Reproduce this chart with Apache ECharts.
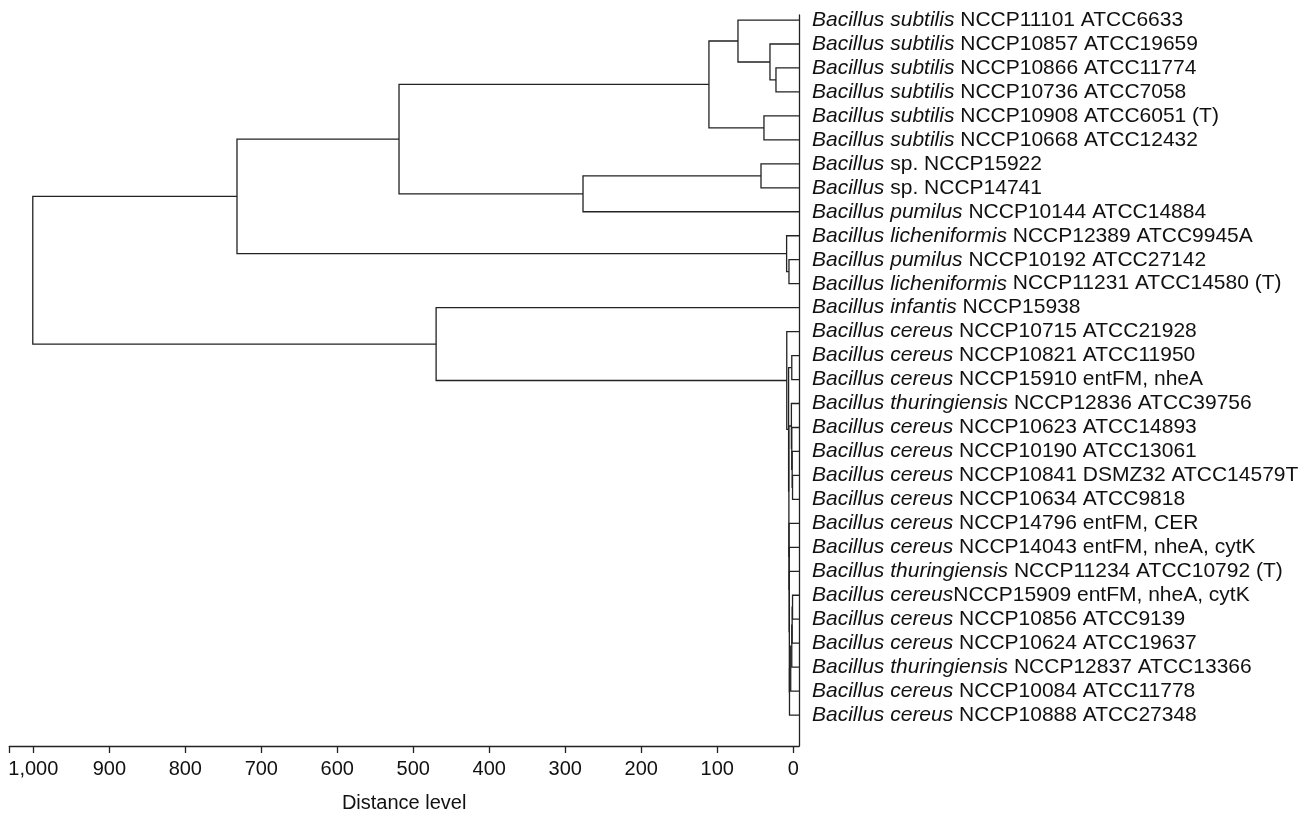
<!DOCTYPE html>
<html>
<head>
<meta charset="utf-8">
<title>Dendrogram</title>
<script src="https://cdn.jsdelivr.net/npm/echarts@6/dist/echarts.min.js"></script>
<style>
  html, body { margin: 0; padding: 0; background: #fff; }
  #main { width: 1314px; height: 814px; }
</style>
</head>
<body>
<div id="main"></div>
<script>
// leaf names: italic part + plain part
var leafGenus = [
  'Bacillus subtilis', 'Bacillus subtilis', 'Bacillus subtilis', 'Bacillus subtilis',
  'Bacillus subtilis', 'Bacillus subtilis', 'Bacillus', 'Bacillus',
  'Bacillus pumilus', 'Bacillus licheniformis', 'Bacillus pumilus', 'Bacillus licheniformis',
  'Bacillus infantis', 'Bacillus cereus', 'Bacillus cereus', 'Bacillus cereus',
  'Bacillus thuringiensis', 'Bacillus cereus', 'Bacillus cereus', 'Bacillus cereus',
  'Bacillus cereus', 'Bacillus cereus', 'Bacillus cereus', 'Bacillus thuringiensis',
  'Bacillus cereus', 'Bacillus cereus', 'Bacillus cereus', 'Bacillus thuringiensis',
  'Bacillus cereus', 'Bacillus cereus'
];
var leafStrain = [
  ' NCCP11101 ATCC6633', ' NCCP10857 ATCC19659', ' NCCP10866 ATCC11774', ' NCCP10736 ATCC7058',
  ' NCCP10908 ATCC6051 (T)', ' NCCP10668 ATCC12432', ' sp. NCCP15922', ' sp. NCCP14741',
  ' NCCP10144 ATCC14884', ' NCCP12389 ATCC9945A', ' NCCP10192 ATCC27142', ' NCCP11231 ATCC14580 (T)',
  ' NCCP15938', ' NCCP10715 ATCC21928', ' NCCP10821 ATCC11950', ' NCCP15910 entFM, nheA',
  ' NCCP12836 ATCC39756', ' NCCP10623 ATCC14893', ' NCCP10190 ATCC13061', ' NCCP10841 DSMZ32 ATCC14579T',
  ' NCCP10634 ATCC9818', ' NCCP14796 entFM, CER', ' NCCP14043 entFM, nheA, cytK', ' NCCP11234 ATCC10792 (T)',
  'NCCP15909 entFM, nheA, cytK', ' NCCP10856 ATCC9139', ' NCCP10624 ATCC19637', ' NCCP12837 ATCC13366',
  ' NCCP10084 ATCC11778', ' NCCP10888 ATCC27348'
];

// merges: [child a, child b, distance]; leaves are 0..29, new clusters get 30, 31, ...
var merges = [
  [2, 3, 22.8], [1, 30, 30.7], [0, 31, 72.8], [4, 5, 38.6], [32, 33, 111],
  [6, 7, 42.5], [35, 8, 276.7], [34, 36, 518.8], [10, 11, 5.7], [9, 38, 8.8],
  [37, 39, 732],
  [14, 15, 2.0], [19, 20, 1.0], [18, 42, 1.5], [17, 43, 2.0], [16, 44, 2.5],
  [24, 25, 1.0], [46, 26, 1.5], [47, 27, 2.0], [48, 28, 3.4], [49, 29, 5.0],
  [23, 50, 5.2], [22, 51, 5.4], [21, 52, 5.6], [45, 53, 5.8], [41, 54, 6.2],
  [13, 55, 8.6], [12, 56, 470], [40, 57, 1000.7]
];

var xTicks = [0, 100, 200, 300, 400, 500, 600, 700, 800, 900, 1000];
var X_MIN = -7.5, X_MAX = 1031.6;

var nLeaf = leafGenus.length;
var pos = [], height = [];
for (var i = 0; i < nLeaf; i++) { pos.push(i); height.push(X_MIN); }
var links = [];
merges.forEach(function (m) {
  var a = m[0], b = m[1];
  links.push([height[a], pos[a], height[b], pos[b], m[2]]);
  pos.push((pos[a] + pos[b]) / 2);
  height.push(m[2]);
});

var leafIdx = leafGenus.map(function (d, i) { return i; });
var font = 'Liberation Sans, Arial, Helvetica, sans-serif';

var chart = echarts.init(document.getElementById('main'));
chart.setOption({
  animation: false,
  backgroundColor: '#fff',
  grid: { left: 9.3, right: 515, top: 15, bottom: 68, containLabel: false, outerBoundsMode: 'none' },
  xAxis: {
    type: 'value',
    position: 'bottom',
    inverse: true,
    min: X_MIN,
    max: X_MAX,
    name: 'Distance level',
    nameLocation: 'middle',
    nameGap: 47,
    nameTextStyle: { fontSize: 20, color: '#111', fontFamily: font },
    axisLine: { show: true, onZero: false, lineStyle: { color: '#222', width: 1.3 } },
    axisTick: { show: true, length: 7, customValues: xTicks.concat([X_MAX]), lineStyle: { color: '#222', width: 1.3 } },
    axisLabel: {
      customValues: xTicks,
      margin: 13,
      fontSize: 20,
      color: '#111',
      fontFamily: font,
      formatter: function (v) { return Number(v).toLocaleString('en-US'); }
    },
    splitLine: { show: false }
  },
  yAxis: {
    type: 'value',
    position: 'right',
    inverse: true,
    min: -0.21,
    max: 30.29,
    axisLine: { show: true, onZero: false, lineStyle: { color: '#222', width: 1.3 } },
    axisTick: { show: false },
    splitLine: { show: false },
    axisLabel: {
      customValues: leafIdx,
      margin: 13,
      fontSize: 21,
      color: '#111',
      fontFamily: font,
      formatter: function (v) {
        var k = Math.round(v);
        return '{i|' + leafGenus[k] + '}' + leafStrain[k];
      },
      rich: {
        i: { fontStyle: 'italic', fontSize: 21, color: '#111', fontFamily: font }
      }
    }
  },
  series: [{
    type: 'custom',
    data: links,
    encode: { x: [0, 2, 4], y: [1, 3] },
    renderItem: function (params, api) {
      var p1 = api.coord([api.value(0), api.value(1)]);
      var p2 = api.coord([api.value(4), api.value(1)]);
      var p3 = api.coord([api.value(4), api.value(3)]);
      var p4 = api.coord([api.value(2), api.value(3)]);
      return {
        type: 'polyline',
        shape: { points: [p1, p2, p3, p4] },
        style: { stroke: '#222', lineWidth: 1.3, fill: null }
      };
    }
  }]
});
</script>
</body>
</html>
